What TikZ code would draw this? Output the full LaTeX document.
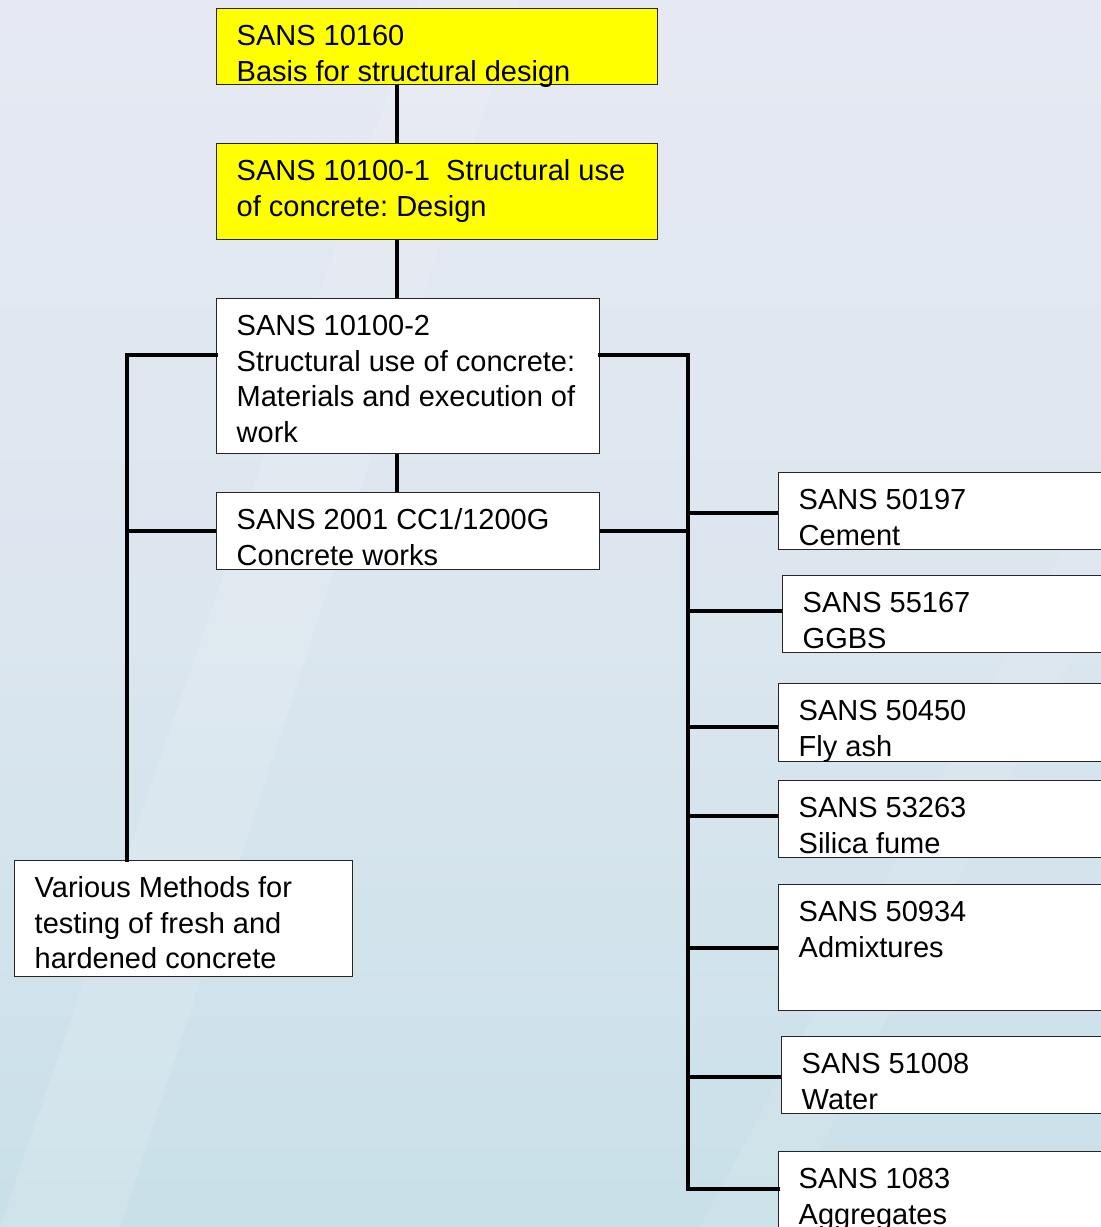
\documentclass[tikz,border=0pt]{standalone}
\usepackage{fontspec}
\setmainfont{Liberation Sans}
\usetikzlibrary{calc}
\definecolor{bgtop}{HTML}{E6E9F3}
\definecolor{bgmid}{HTML}{DCE6EF}
\definecolor{bgbot}{HTML}{C9E0E9}
\definecolor{boxyellow}{HTML}{FFFF00}
\frenchspacing
\newcommand{\boxlines}[3]{\vbox to #2{\hsize=#1\relax\vskip 12.15pt\relax #3\vss}}
\newcommand{\bxline}[1]{\hbox to \hsize{\hskip 20pt\strut #1\hss}}
\tikzset{
  sbox/.style={draw=black!85, line width=1.4pt, fill=white, inner sep=0pt, anchor=north west,
    font=\fontsize{29}{35.5}\selectfont},
  ybox/.style={sbox, fill=boxyellow},
  conn/.style={draw=black, line width=4.2pt, line cap=rect}
}
\begin{document}
\begin{tikzpicture}[x=1pt,y=-1pt]
\useasboundingbox (0,0) rectangle (1101,1227);
\clip (0,0) rectangle (1101,1227);
\shade[top color=bgtop, bottom color=bgbot, middle color=bgmid] (0,0) rectangle (1101,1227);
\fill[white, opacity=0.12] (0,1227) -- (120,1227) -- (520,0) -- (420,0) -- cycle;
\fill[white, opacity=0.08] (700,1227) -- (780,1227) -- (1101,600) -- (1101,480) -- cycle;
% connector coordinates
\coordinate (lbus) at (127,355);
\coordinate (rbus) at (688,355);
\coordinate (rend) at (688,1189);
% main column boxes
\node[ybox] (b1) at (216,8) {\boxlines{441pt}{76pt}{\bxline{SANS 10160}\bxline{Basis for structural design}}};
\node[ybox] (b2) at (216,143) {\boxlines{441pt}{96pt}{\bxline{SANS 10100-1\ \ Structural use}\bxline{of concrete: Design}}};
\node[sbox] (b3) at (216,298) {\boxlines{383pt}{155pt}{\bxline{SANS 10100-2}\bxline{Structural use of concrete:}\bxline{Materials and execution of}\bxline{work}}};
\node[sbox] (b4) at (216,492) {\boxlines{383pt}{77pt}{\bxline{SANS 2001 CC1/1200G}\bxline{Concrete works}}};
\node[sbox] (b5) at (14,860) {\boxlines{338pt}{116pt}{\bxline{Various Methods for}\bxline{testing of fresh and}\bxline{hardened concrete}}};
% right column boxes
\node[sbox] (cem) at (778,472) {\boxlines{340pt}{77pt}{\bxline{SANS 50197}\bxline{Cement}}};
\node[sbox] (ggbs) at (782,575) {\boxlines{340pt}{77pt}{\bxline{SANS 55167}\bxline{GGBS}}};
\node[sbox] (fly) at (778,683) {\boxlines{340pt}{78pt}{\bxline{SANS 50450}\bxline{Fly ash}}};
\node[sbox] (sil) at (778,780) {\boxlines{340pt}{77pt}{\bxline{SANS 53263}\bxline{Silica fume}}};
\node[sbox] (adm) at (778,884) {\boxlines{340pt}{126pt}{\bxline{SANS 50934}\bxline{Admixtures}}};
\node[sbox] (wat) at (781,1036) {\boxlines{340pt}{77pt}{\bxline{SANS 51008}\bxline{Water}}};
\node[sbox] (agg) at (778,1151) {\boxlines{340pt}{90pt}{\bxline{SANS 1083}\bxline{Aggregates}}};
% vertical spine
\draw[conn, line cap=butt] ([xshift=181pt]b1.south west) -- ([xshift=181pt]b2.north west);
\draw[conn, line cap=butt] ([xshift=181pt]b2.south west) -- ([xshift=181pt]b3.north west);
\draw[conn, line cap=butt] ([xshift=181pt]b3.south west) -- ([xshift=181pt]b4.north west);
% left bus
\draw[conn] ([yshift=-57pt]b3.north west) -- (lbus) -- (lbus |- b5.north);
\draw[conn, line cap=butt] (b4.west) -- (b4.west -| lbus);
% right bus
\draw[conn] ([yshift=-57pt]b3.north east) -- (rbus) -- (rend) -- (rend -| agg.west);
\draw[conn, line cap=butt] (b4.east) -- (b4.east -| rbus);
\draw[conn, line cap=butt] (rbus |- 0,513) -- (cem.west |- 0,513);
\draw[conn, line cap=butt] (rbus |- 0,611) -- (ggbs.west |- 0,611);
\draw[conn, line cap=butt] (rbus |- 0,727) -- (fly.west |- 0,727);
\draw[conn, line cap=butt] (rbus |- 0,816) -- (sil.west |- 0,816);
\draw[conn, line cap=butt] (rbus |- adm.west) -- (adm.west);
\draw[conn, line cap=butt] (rbus |- 0,1077) -- (wat.west |- 0,1077);
\end{tikzpicture}
\end{document}
